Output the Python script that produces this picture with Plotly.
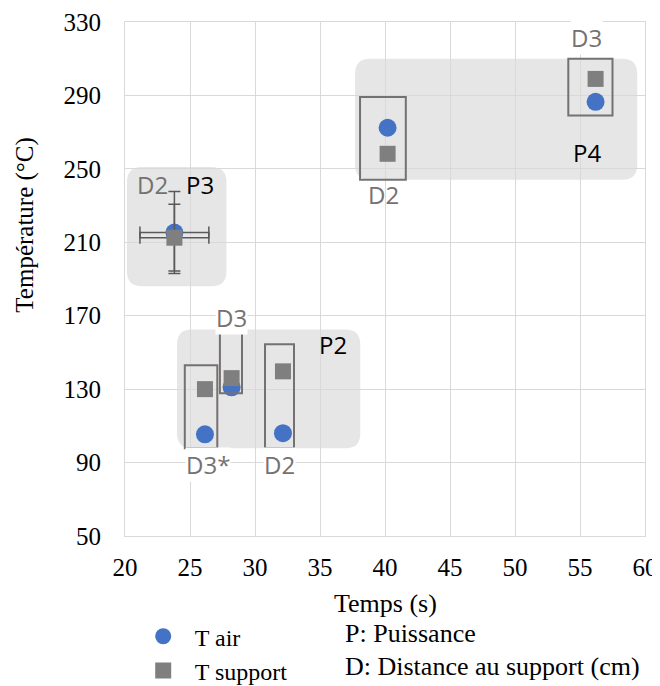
import plotly.graph_objects as go

# ---- data ----
temps_air = [23.8, 26.15, 28.2, 32.15, 40.2, 56.2]
t_air = [215.3, 105.4, 131.0, 106.0, 272.4, 286.5]
temps_support = [23.8, 26.15, 28.2, 32.15, 40.2, 56.2]
t_support = [212.5, 130.0, 136.0, 139.7, 258.2, 299.0]
err_y_air = [22.3, None, None, None, None, None]
err_y_support = [18.2, None, None, None, None, None]
err_x_air = [2.65, None, None, None, None, None]
err_x_support = [2.65, None, None, None, None, None]

x_ticks = [20, 25, 30, 35, 40, 45, 50, 55, 60]
y_ticks = [50, 90, 130, 170, 210, 250, 290, 330]

# power groups (rounded background regions): x0, x1, y0, y1
group_regions = [
    (20.15, 27.8, 186, 251),   # P3
    (24.0, 38.1, 97.8, 162.5), # P2
    (37.7, 59.4, 244, 310),    # P4
]
# distance boxes: x0, x1, y0, y1
distance_boxes = [
    (24.6, 27.1, 97.8, 143),
    (27.3, 29.0, 127.7, 163),
    (30.77, 33.0, 97.8, 154.4),
    (38.08, 41.6, 244, 289.2),
    (54.1, 57.5, 279, 310),
]
# labels: text, x, y, kind
labels = [
    ("D2", 22.08, 241.4, "d_nobg"),
    ("P3", 25.77, 241.4, "p"),
    ("D3", 28.23, 169.0, "d"),
    ("P2", 36.0, 154.4, "p"),
    ("D3*", 26.4, 89.0, "d"),
    ("D2", 31.9, 89.0, "d"),
    ("D2", 39.85, 236.0, "d_nobg"),
    ("D3", 55.5, 321.3, "d"),
    ("P4", 55.5, 258.8, "p"),
]

BLUE = "#4472C4"
GRAY = "#7F7F7F"
BOXC = "#767171"
SERIF = "Liberation Serif, Times New Roman, serif"
SANS = "Open Sans, Noto Sans, sans-serif"

fig = go.Figure()

fig.add_trace(go.Scatter(
    x=temps_air, y=t_air, mode="markers", name="  T air",
    marker=dict(symbol="circle", size=18, color=BLUE),
    error_y=dict(type="data", array=err_y_air, color="#595959", thickness=1.5, width=6),
    error_x=dict(type="data", array=err_x_air, color="#595959", thickness=1.5, width=6),
))
fig.add_trace(go.Scatter(
    x=temps_support, y=t_support, mode="markers", name="  T support",
    marker=dict(symbol="square", size=16, color=GRAY),
    error_y=dict(type="data", array=err_y_support, color="#595959", thickness=1.5, width=6),
    error_x=dict(type="data", array=err_x_support, color="#595959", thickness=1.5, width=6),
))

def rounded_path(x0, x1, y0, y1, rx=1.15, ry=8.2):
    return (f"M {x0+rx},{y0} L {x1-rx},{y0} Q {x1},{y0} {x1},{y0+ry} "
            f"L {x1},{y1-ry} Q {x1},{y1} {x1-rx},{y1} "
            f"L {x0+rx},{y1} Q {x0},{y1} {x0},{y1-ry} "
            f"L {x0},{y0+ry} Q {x0},{y0} {x0+rx},{y0} Z")

shapes = []
for (x0, x1, y0, y1) in group_regions:
    shapes.append(dict(type="path", path=rounded_path(x0, x1, y0, y1), xref="x", yref="y",
                       fillcolor="#E6E6E6", line=dict(width=0), layer="below"))
for (x0, x1, y0, y1) in distance_boxes:
    shapes.append(dict(type="rect", x0=x0, x1=x1, y0=y0, y1=y1, xref="x", yref="y",
                       fillcolor="rgba(0,0,0,0)", line=dict(color=BOXC, width=2), layer="above"))

annotations = []
for (txt, x, y, kind) in labels:
    if kind == "p":
        annotations.append(dict(x=x, y=y, text=txt, showarrow=False,
                                font=dict(family=SANS, size=24, color="black")))
    else:
        a = dict(x=x, y=y, text=txt, showarrow=False,
                 font=dict(family=SANS, size=24, color=BOXC), borderpad=0)
        if kind == "d":
            a["bgcolor"] = "white"
        annotations.append(a)

annotations.append(dict(xref="paper", yref="paper", x=0.42, y=-0.19, xanchor="left", yanchor="middle",
                        text="P: Puissance", showarrow=False, font=dict(family=SERIF, size=26, color="black")))
annotations.append(dict(xref="paper", yref="paper", x=0.42, y=-0.253, xanchor="left", yanchor="middle",
                        text="D: Distance au support (cm)", showarrow=False,
                        font=dict(family=SERIF, size=26, color="black")))
annotations.append(dict(xref="paper", yref="paper", x=-0.193, y=0.605, xanchor="center", yanchor="middle",
                        text="Température (°C)", textangle=-90, showarrow=False,
                        font=dict(family=SERIF, size=25, color="black")))
annotations.append(dict(xref="paper", yref="paper", x=0.5, y=-0.132, xanchor="center", yanchor="middle",
                        text="Temps (s)", showarrow=False,
                        font=dict(family=SERIF, size=26, color="black")))

fig.update_layout(
    width=652, height=678,
    margin=dict(l=117, r=15, t=14, b=150, autoexpand=False),
    paper_bgcolor="white", plot_bgcolor="white",
    shapes=shapes, annotations=annotations,
    font=dict(family=SERIF, size=25, color="black"),
    legend=dict(x=0.035, y=-0.152, xanchor="left", yanchor="top", orientation="v",
                font=dict(family=SERIF, size=24, color="black"), bgcolor="rgba(0,0,0,0)"),
    xaxis=dict(range=[20, 60], tickvals=x_ticks, ticktext=[str(v) for v in x_ticks],
               showgrid=True, gridcolor="#D9D9D9", gridwidth=1, zeroline=False,
               showline=True, linecolor="#D9D9D9", mirror=True, automargin=False,
               tickfont=dict(family=SERIF, size=25), ticklabelstandoff=9),
    yaxis=dict(range=[50, 330], tickvals=y_ticks, ticktext=[str(v) for v in y_ticks],
               showgrid=True, gridcolor="#D9D9D9", gridwidth=1, zeroline=False,
               showline=True, linecolor="#D9D9D9", mirror=True, automargin=False,
               tickfont=dict(family=SERIF, size=25), ticklabelstandoff=18),
)

fig.write_html("out.html")
